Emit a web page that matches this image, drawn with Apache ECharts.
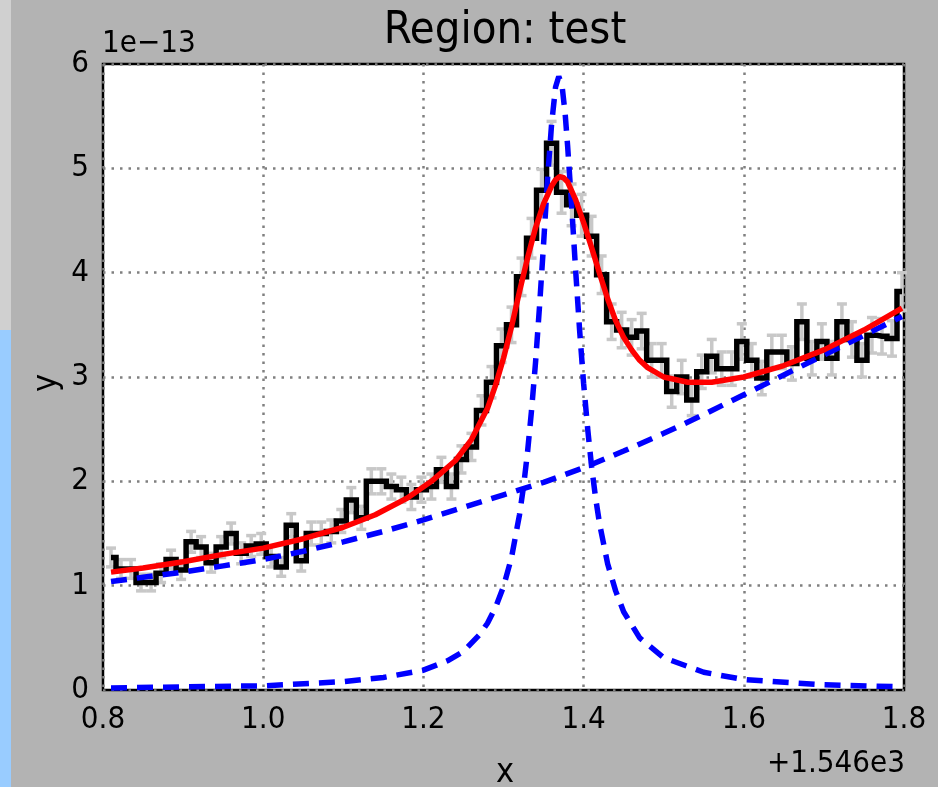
<!DOCTYPE html>
<html>
<head>
<meta charset="utf-8">
<script src="https://cdn.jsdelivr.net/npm/echarts@6/dist/echarts.min.js"></script>
<style>
html,body{margin:0;padding:0;background:#b3b3b3;}
#chart{width:938px;height:787px;}
</style>
</head>
<body>
<div id="chart"></div>
<script>
// x positions of the data bins (offset from 1546)
var binX = [0.8100,0.8225,0.8350,0.8475,0.8600,0.8725,0.8850,0.8975,0.9100,0.9225,
0.9350,0.9475,0.9600,0.9725,0.9850,0.9975,1.0100,1.0225,1.0350,1.0475,
1.0600,1.0725,1.0850,1.0975,1.1100,1.1225,1.1350,1.1475,1.1600,1.1725,
1.1850,1.1975,1.2100,1.2225,1.2350,1.2475,1.2600,1.2725,1.2850,1.2975,
1.3100,1.3225,1.3350,1.3475,1.3600,1.3725,1.3850,1.3975,1.4100,1.4225,
1.4350,1.4475,1.4600,1.4725,1.4850,1.4975,1.5100,1.5225,1.5350,1.5475,
1.5600,1.5725,1.5850,1.5975,1.6100,1.6225,1.6350,1.6475,1.6600,1.6725,
1.6850,1.6975,1.7100,1.7225,1.7350,1.7475,1.7600,1.7725,1.7850,1.7975];
// observed flux (units of 1e-13)
var binY = [1.27,1.16,1.16,1.03,1.03,1.12,1.25,1.15,1.42,1.37,
1.22,1.37,1.50,1.31,1.38,1.40,1.28,1.18,1.58,1.24,
1.50,1.50,1.52,1.62,1.82,1.65,2.00,2.00,1.95,1.92,
1.85,1.92,1.95,2.11,1.95,2.21,2.33,2.68,2.95,3.30,
3.50,3.96,4.33,4.79,5.24,4.77,4.65,4.55,4.35,3.98,
3.53,3.45,3.38,3.44,3.16,3.16,2.86,3.00,2.78,3.05,
3.20,3.08,3.08,3.34,3.16,2.99,3.24,3.24,3.13,3.53,
3.18,3.34,3.18,3.53,3.36,3.16,3.40,3.39,3.37,3.82];
// errors
var binErr = [0.09,0.09,0.09,0.08,0.08,0.09,0.09,0.09,0.10,0.10,
0.09,0.10,0.10,0.10,0.10,0.10,0.10,0.09,0.11,0.10,
0.11,0.11,0.11,0.11,0.12,0.11,0.12,0.12,0.12,0.12,
0.12,0.12,0.12,0.12,0.12,0.13,0.13,0.14,0.15,0.16,
0.17,0.18,0.19,0.20,0.21,0.20,0.20,0.20,0.19,0.18,
0.17,0.17,0.17,0.17,0.16,0.16,0.15,0.16,0.15,0.16,
0.16,0.16,0.16,0.17,0.16,0.16,0.16,0.16,0.16,0.17,
0.16,0.17,0.16,0.17,0.17,0.16,0.17,0.17,0.17,0.18];

// total model (red)
var fitX = [0.81,0.85,0.90,0.95,1.00,1.05,1.10,1.14,1.18,1.21,1.24,1.26,1.28,1.29,1.30,1.31,1.32,1.33,1.34,1.35,1.36,1.365,1.37,1.375,1.38,1.39,1.40,1.41,1.42,1.43,1.44,1.45,1.46,1.47,1.48,1.50,1.53,1.56,1.60,1.65,1.70,1.75,1.7975];
var fitY = [1.13,1.17,1.23,1.30,1.36,1.45,1.56,1.68,1.84,2.00,2.20,2.40,2.70,2.92,3.18,3.48,3.82,4.14,4.43,4.66,4.83,4.89,4.92,4.91,4.87,4.70,4.48,4.24,3.99,3.75,3.54,3.38,3.26,3.16,3.09,3.00,2.95,2.95,3.00,3.11,3.26,3.45,3.66];

// continuum component (blue dashed)
var contX = [0.81,0.85,0.90,0.95,1.00,1.05,1.10,1.15,1.20,1.25,1.30,1.35,1.40,1.45,1.50,1.55,1.60,1.65,1.70,1.75,1.7975];
var contY = [1.04,1.08,1.13,1.19,1.25,1.33,1.42,1.52,1.63,1.75,1.87,1.99,2.13,2.29,2.46,2.64,2.83,3.02,3.21,3.40,3.58];

// line component (blue dashed)
var lineX = [0.81,0.90,1.00,1.10,1.15,1.20,1.23,1.25,1.27,1.28,1.29,1.30,1.31,1.32,1.325,1.33,1.335,1.34,1.345,1.35,1.355,1.36,1.365,1.369,1.373,1.377,1.38,1.385,1.39,1.395,1.40,1.405,1.41,1.415,1.42,1.43,1.44,1.45,1.47,1.50,1.55,1.60,1.70,1.7975];
var lineY = [0.02,0.03,0.04,0.08,0.12,0.19,0.28,0.37,0.53,0.64,0.79,0.99,1.27,1.68,1.95,2.28,2.68,3.14,3.68,4.27,4.90,5.42,5.78,5.88,5.80,5.52,5.22,4.65,4.03,3.45,2.94,2.51,2.14,1.84,1.59,1.21,0.95,0.75,0.50,0.31,0.17,0.10,0.05,0.03];

var yTicks = [0,1,2,3,4,5,6];
var xTicks = [0.8,1.0,1.2,1.4,1.6,1.8];

function zip(a,b){var r=[];for(var i=0;i<a.length;i++){r.push([a[i],b[i]]);}return r;}
var errData=[];for(var i=0;i<binX.length;i++){errData.push([binX[i],binY[i],binErr[i]]);}

var FONT = '"DejaVu Sans Condensed","DejaVu Sans",sans-serif';
var chart = echarts.init(document.getElementById('chart'), null, {renderer:'canvas'});
var option = {
  animation:false,
  backgroundColor:'#b3b3b3',
  textStyle:{fontFamily:FONT},
  grid:{left:103,right:34,top:64,bottom:97,show:true,backgroundColor:'#ffffff',borderColor:'#000000',borderWidth:2.5,z:0},
  xAxis:{type:'value',min:0.8,max:1.8,interval:0.2,
    axisLine:{show:false},axisTick:{show:false},
    axisLabel:{fontSize:31,color:'#000',margin:14,fontFamily:FONT,
      formatter:function(v){return v.toFixed(1);},
      customValues:xTicks},
    splitLine:{show:true,lineStyle:{color:'#808080',width:2.5,type:[2.5,6]}}},
  yAxis:{type:'value',min:0,max:6,interval:1,
    axisLine:{show:false},axisTick:{show:false},
    axisLabel:{fontSize:31,color:'#000',margin:14,fontFamily:FONT,customValues:yTicks},
    splitLine:{show:true,lineStyle:{color:'#808080',width:2.5,type:[2.5,6]}}},
  graphic:[
    {type:'rect',left:0,top:0,shape:{width:11,height:330},style:{fill:'#d0d0d0'},silent:true},
    {type:'rect',left:0,top:330,shape:{width:11,height:457},style:{fill:'#99ccff'},silent:true},
    {type:'text',position:[505,9],style:{text:'Region: test',font:'45px '+FONT,fill:'#000',textAlign:'center'}},
    {type:'text',position:[102,28],style:{text:'1e\u221213',font:'31px '+FONT,fill:'#000'}},
    {type:'text',position:[905,748],style:{text:'+1.546e3',font:'31px '+FONT,fill:'#000',textAlign:'right'}},
    {type:'text',position:[505,756],style:{text:'x',font:'34px '+FONT,fill:'#000',textAlign:'center'}},
    {type:'text',position:[30,392],rotation:Math.PI/2,style:{text:'y',font:'34px '+FONT,fill:'#000'}}
  ],
  series:[
    {type:'custom',name:'err',data:errData,encode:{x:0,y:1},z:2,
      renderItem:function(params,api){
        var x=api.value(0),y=api.value(1),e=api.value(2);
        var lo=api.coord([x,y-e]),hi=api.coord([x,y+e]);
        var w=5;var st={stroke:'#c8c8c8',lineWidth:3.5};
        return {type:'group',children:[
          {type:'line',shape:{x1:lo[0],y1:lo[1],x2:hi[0],y2:hi[1]},style:st},
          {type:'line',shape:{x1:lo[0]-w,y1:lo[1],x2:lo[0]+w,y2:lo[1]},style:st},
          {type:'line',shape:{x1:hi[0]-w,y1:hi[1],x2:hi[0]+w,y2:hi[1]},style:st}
        ]};
      }},
    {type:'line',name:'data',data:zip(binX,binY),step:'middle',symbol:'none',z:3,
      lineStyle:{color:'#000',width:5.5,join:'miter'}},
    {type:'line',name:'cont',data:zip(contX,contY),smooth:false,symbol:'none',z:4,
      lineStyle:{color:'#0000ff',width:5.5,type:[16,10]}},
    {type:'line',name:'peak',data:zip(lineX,lineY),smooth:false,symbol:'none',z:4,
      lineStyle:{color:'#0000ff',width:5.5,type:[16,10]}},
    {type:'line',name:'fit',data:zip(fitX,fitY),smooth:false,symbol:'none',z:5,
      lineStyle:{color:'#ff0000',width:5.5,join:'round'}}
  ]
};
chart.setOption(option);
</script>
</body>
</html>
